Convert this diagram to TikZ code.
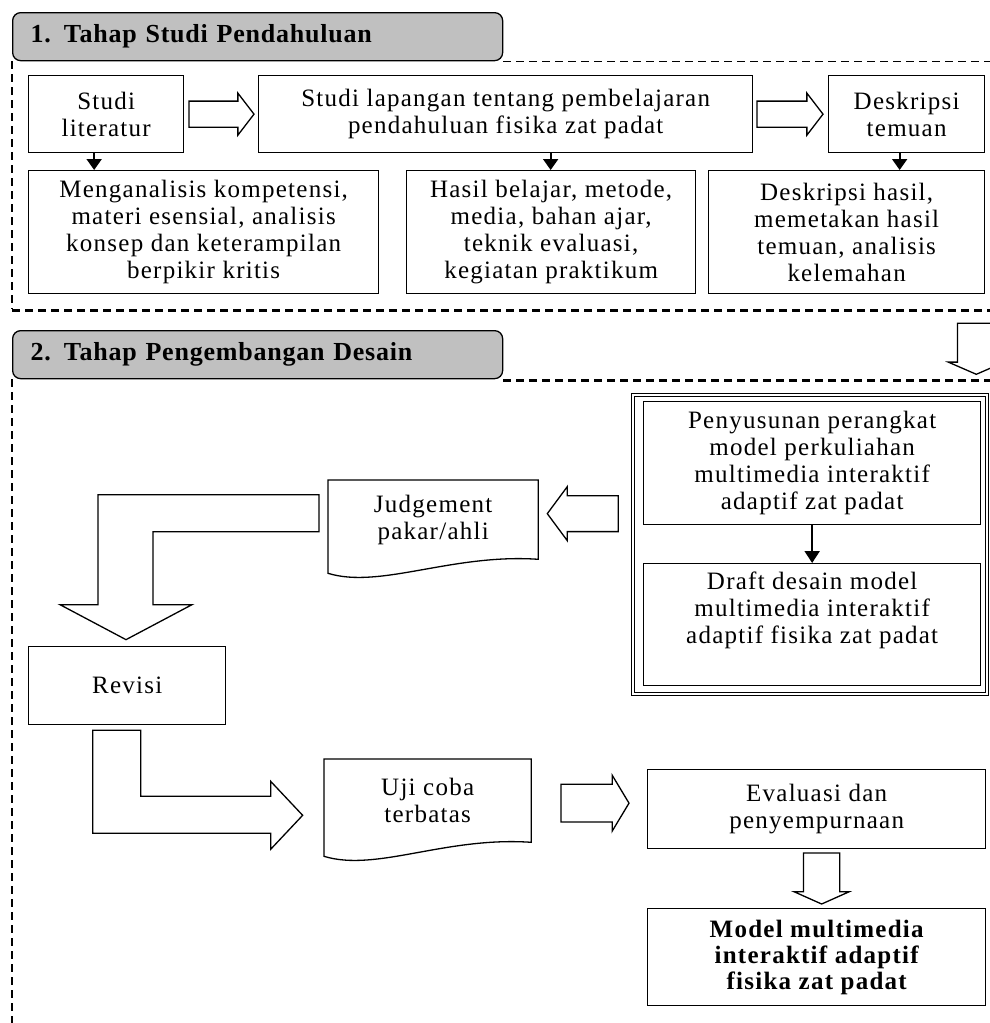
\documentclass[tikz,border=0pt]{standalone}
\usepackage{fontspec}
\setmainfont{Liberation Serif}[LetterSpace=5]
\usepackage{tikz}
\usetikzlibrary{shapes.arrows,arrows.meta,calc,positioning}
\definecolor{stagegrey}{HTML}{C0C0C0}

\begin{document}
\begin{tikzpicture}[x=1pt,y=-1pt,
  box/.style={draw,line width=1.3pt,anchor=north west,align=center,inner sep=2pt,
    font=\fontsize{25}{27}\selectfont},
  stage/.style={draw,line width=1.3pt,rounded corners=8pt,fill=stagegrey,anchor=north west,
    minimum height=48pt,text width=454pt,inner xsep=18pt,align=left,
    font=\fontsize{26}{28}\selectfont\bfseries\addfontfeature{LetterSpace=3}},
  frame/.style={dash pattern=on 8pt off 5pt,line width=1.3pt},
  heavy/.style={frame,line width=2.4pt},
  stem/.style={line width=2pt,-{Triangle[length=11pt,width=15pt]}},
  hollow/.style n args={4}{single arrow,draw,fill=white,line width=1.3pt,inner sep=0pt,
    outer sep=0pt,minimum height=#1,minimum width=#2,inner ysep=#3,single arrow tip angle=#4},
  docoutline/.style={draw,line width=1.3pt},
]
  \fill[white] (0,0) rectangle (990,1023);
  \useasboundingbox (0,0) rectangle (990,1023);
  \clip (0,0) rectangle (990,1023);

  % stage 1
  \node[stage] (stage1) at (12,12) {1. Tahap Studi Pendahuluan};
  \node[box,minimum width=155pt,minimum height=77pt] (lit) at (28,75) {Studi\\literatur};
  \node[box,minimum width=494pt,minimum height=77pt] (field) at (258,75)
    {Studi lapangan tentang pembelajaran\\pendahuluan fisika zat padat};
  \node[box,minimum width=156pt,minimum height=77pt] (finding) at (828,75) {Deskripsi\\temuan};
  \node[box,minimum width=350pt,minimum height=123pt] (analysis) at (28,170)
    {Menganalisis kompetensi,\\materi esensial, analisis\\konsep dan keterampilan\\berpikir kritis};
  \node[box,minimum width=289pt,minimum height=123pt] (results) at (406,170)
    {Hasil belajar, metode,\\media, bahan ajar,\\teknik evaluasi,\\kegiatan praktikum};
  \node[box,minimum width=276pt,minimum height=123pt] (summary) at (708,170)
    {Deskripsi hasil,\\memetakan hasil\\temuan, analisis\\kelemahan};

  \node[hollow={65pt}{42pt}{11pt}{105},anchor=tip] at ($(field.west)+(-4,0)$) {};
  \node[hollow={66pt}{42pt}{11pt}{105},anchor=tip] at ($(finding.west)+(-5,0)$) {};
  \draw[stem] ($(lit.south)+(-12,0)$) coordinate (s1) -- (s1 |- analysis.north);
  \draw[stem] ($(field.south)+(45,0)$) coordinate (s2) -- (s2 |- results.north);
  \draw[stem] ($(finding.south)+(-7,0)$) coordinate (s3) -- (s3 |- summary.north);

  \draw[frame] (stage1.south east) -- ++(500,0);
  \draw[frame] (stage1.south west) -- ++(0,248);
  \draw[heavy] ($(stage1.south west)+(0,249)$) -- ++(990,0);
  \node[hollow={51pt}{56pt}{14pt}{133},anchor=tip,rotate=-90] at ($(summary.south east)+(-9,80)$) {};

  % stage 2
  \node[stage] (stage2) at (12,330) {2. Tahap Pengembangan Desain};
  \draw[heavy] (stage2.south east) ++(0,1) -- ++(500,0);
  \draw[frame] (stage2.south west) -- ++(0,700);

  \node[draw,double,double distance=1.8pt,line width=0.9pt,anchor=north west,
    minimum width=354pt,minimum height=299pt] (kit) at (632.5,394.5) {};
  \node[box,minimum width=337pt,minimum height=123pt] (plan) at (643,401)
    {Penyusunan perangkat\\model perkuliahan\\multimedia interaktif\\adaptif zat padat};
  \node[box,minimum width=337pt,minimum height=122pt] (draft) at (643,563)
    {Draft desain model\\multimedia interaktif\\adaptif fisika zat padat\\[6pt]};
  \draw[line width=2.2pt,-{Triangle[length=12pt,width=15pt]}] (plan.south) -- (draft.north);

  \node[box,draw=none,minimum width=209pt,minimum height=78pt] (judge) at (328,480) {Judgement\\pakar/ahli};
  \node[box,minimum width=197pt,minimum height=78pt] (revise) at (28,646) {Revisi};
  \node[box,draw=none,minimum width=206pt,minimum height=82pt] (trial) at (324,759) {Uji coba\\terbatas};
  \node[box,minimum width=338pt,minimum height=79pt] (evaluate) at (647,769) {Evaluasi dan\\penyempurnaan};
  \node[box,minimum width=338pt,minimum height=97pt,font=\fontsize{25}{26}\selectfont\bfseries] (model) at (647,908)
    {Model multimedia\\interaktif adaptif\\fisika zat padat};

  \foreach \n in {judge,trial}
    \draw[docoutline] (\n.north west) -- (\n.north east) -- (\n.south east)
      .. controls +(-86,-6) and +(52,16) .. ($(\n.south west)+(0,14)$) -- cycle;

  \node[hollow={71pt}{54pt}{13.5pt}{107},anchor=tip,rotate=180] at ($(judge.east)+(9,-6)$) {};
  \node[hollow={68pt}{56pt}{14pt}{118},anchor=tip] at ($(evaluate.west)+(-18,-6)$) {};
  \node[hollow={51pt}{55pt}{13pt}{132},anchor=tip,rotate=-90] at ($(model.north)+(5,-4)$) {};

  % bent arrows
  \draw[line width=1.3pt,fill=white] ($(judge.west)+(-9,-25)$) -- ++(-221,0) -- ++(0,110)
    -- ++(-38,0) -- ++(66,35) -- ++(66,-35) -- ++(-39,0) -- ++(0,-73) -- ++(166,0) -- cycle;
  \draw[line width=1.3pt,fill=white] ($(revise.south)+(-34.5,5)$) -- ++(48,0) -- ++(0,66)
    -- ++(130,0) -- ++(0,-15) -- ++(32,34) -- ++(-32,34) -- ++(0,-16) -- ++(-178,0) -- cycle;
\end{tikzpicture}
\end{document}
